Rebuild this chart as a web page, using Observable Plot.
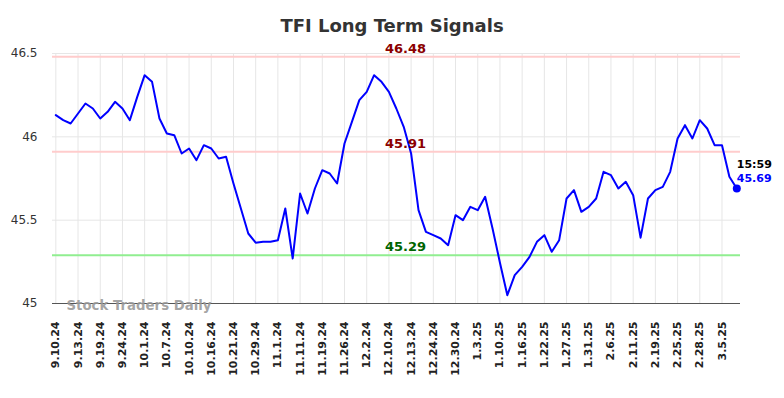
<!DOCTYPE html>
<html>
<head>
<meta charset="utf-8">
<script src="https://cdn.jsdelivr.net/npm/d3@7"></script>
<script src="https://cdn.jsdelivr.net/npm/@observablehq/plot@0.6"></script>
<style>
  html, body { margin: 0; padding: 0; background: #fff; }
  #title { width: 784px; height: 40px; box-sizing: border-box; padding-top: 15px; text-align: center;
           font-family: "DejaVu Sans", sans-serif; font-weight: bold; font-size: 18px; line-height: 21px; color: #333; }
</style>
</head>
<body>
<div id="title">TFI Long Term Signals</div>
<div id="chart"></div>
<script>
const values = [
  46.13, 46.10, 46.08, 46.14, 46.20, 46.17, 46.11, 46.15, 46.21, 46.17,
  46.10, 46.24, 46.37, 46.33, 46.11, 46.02, 46.01, 45.90, 45.93, 45.86,
  45.95, 45.93, 45.87, 45.88, 45.72, 45.57, 45.42, 45.365, 45.37, 45.37,
  45.38, 45.57, 45.27, 45.66, 45.54, 45.69, 45.80, 45.78, 45.72, 45.96,
  46.09, 46.22, 46.27, 46.37, 46.33, 46.27, 46.17, 46.06, 45.90, 45.56,
  45.43, 45.41, 45.39, 45.35, 45.53, 45.50, 45.58, 45.56, 45.64, 45.45,
  45.245, 45.05, 45.17, 45.22, 45.28, 45.37, 45.41, 45.31, 45.38, 45.63,
  45.68, 45.55, 45.58, 45.63, 45.79, 45.77, 45.69, 45.73, 45.65, 45.395,
  45.63, 45.68, 45.70, 45.79, 45.99, 46.07, 45.99, 46.10, 46.05, 45.95,
  45.95, 45.76, 45.69
];
const tickLabels = [
  "9.10.24", "9.13.24", "9.19.24", "9.24.24", "10.1.24", "10.7.24", "10.10.24", "10.16.24",
  "10.21.24", "10.29.24", "11.1.24", "11.11.24", "11.19.24", "11.26.24", "12.2.24", "12.10.24",
  "12.13.24", "12.24.24", "12.30.24", "1.3.25", "1.10.25", "1.16.25", "1.22.25", "1.27.25",
  "1.31.25", "2.6.25", "2.11.25", "2.19.25", "2.25.25", "2.28.25", "3.5.25"
];
const tickEvery = 3;
const yTicks = [45, 45.5, 46, 46.5];
const levels = [46.48, 45.91, 45.29];
const levelKinds = ["resistance", "resistance", "support"];
const lastTime = "15:59";

const data = values.map((v, i) => ({i, v}));
const tickIdx = tickLabels.map((_, k) => k * tickEvery);
const levelData = levels.map((v, k) => ({v, kind: levelKinds[k]}));
const last = data[data.length - 1];

const lineColor = k => k === "support" ? "#90ee90" : "#ffcccc";
const textColor = k => k === "support" ? "#006400" : "#8b0000";

const chart = Plot.plot({
  width: 784,
  height: 358,
  marginTop: 13,
  marginLeft: 52,
  marginRight: 44,
  marginBottom: 95,
  style: {fontFamily: "DejaVu Sans, sans-serif", background: "#fff", overflow: "visible"},
  x: {domain: [-0.45, values.length - 0.5], axis: null, label: null},
  y: {domain: [45, 46.5], axis: null, label: null},
  marks: [
    Plot.gridX(tickIdx, {stroke: "#e6e6e6", strokeOpacity: 1, strokeWidth: 1}),
    Plot.gridY(yTicks, {stroke: "#e6e6e6", strokeOpacity: 1, strokeWidth: 1}),
    Plot.axisX(tickIdx, {
      tickFormat: i => tickLabels[i / tickEvery], label: null,
      tickRotate: -90, tickSize: 0, tickPadding: 18,
      fontSize: 11, fontWeight: "bold", fill: "#222"
    }),
    Plot.axisY(yTicks, {
      tickFormat: d => String(d), tickSize: 0, tickPadding: 15, label: null,
      fontSize: 12, fill: "#333"
    }),
    Plot.ruleY(levelData, {y: "v", stroke: d => lineColor(d.kind), strokeWidth: 2}),
    Plot.ruleY([45], {stroke: "#555", strokeWidth: 1}),
    Plot.text(["Stock Traders Daily"], {
      frameAnchor: "bottom-left", textAnchor: "start", lineAnchor: "bottom",
      dx: 14, dy: 6, fontSize: 13.3, fontWeight: "bold", fill: "#999", fillOpacity: 0.9
    }),
    Plot.lineY(data, {x: "i", y: "v", stroke: "#0000ff", strokeWidth: 2}),
    Plot.text(levelData, {
      y: "v", text: d => d.v.toFixed(2), fill: d => textColor(d.kind),
      dx: 9, dy: -8, fontSize: 13, fontWeight: "bold"
    }),
    Plot.dot([last], {x: "i", y: "v", r: 4, fill: "#0000ff", stroke: null}),
    Plot.text([last], {x: "i", y: "v", text: () => lastTime, textAnchor: "start",
      dy: -24, fontSize: 11, fontWeight: "bold", fill: "#000"}),
    Plot.text([last], {x: "i", y: "v", text: d => d.v.toFixed(2), textAnchor: "start",
      dy: -10, fontSize: 11, fontWeight: "bold", fill: "#0000ff"})
  ]
});
document.getElementById("chart").appendChild(chart);
</script>
</body>
</html>
